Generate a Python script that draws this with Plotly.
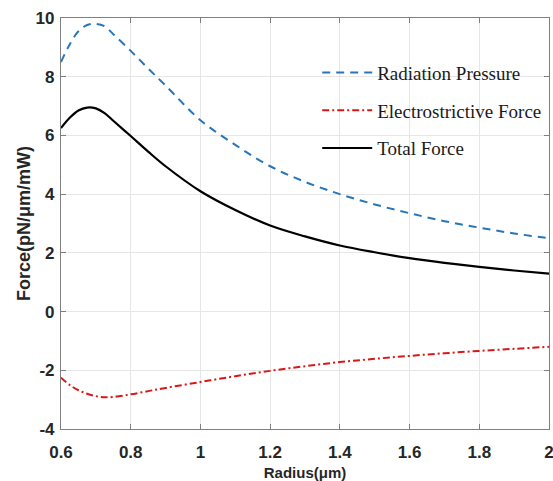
import plotly.graph_objects as go

radius = [0.6, 0.625, 0.65, 0.675, 0.7, 0.725, 0.75, 0.8, 0.85, 0.9, 1.0, 1.1,
          1.2, 1.3, 1.4, 1.5, 1.6, 1.7, 1.8, 1.9, 2.0]
radiation = [8.5, 9.1, 9.55, 9.76, 9.8, 9.72, 9.45, 8.88, 8.28, 7.7, 6.52, 5.68,
             4.95, 4.42, 4.0, 3.65, 3.35, 3.08, 2.86, 2.66, 2.5]
electro = [-2.25, -2.5, -2.68, -2.8, -2.88, -2.92, -2.91, -2.82, -2.71, -2.6, -2.4, -2.2,
           -2.02, -1.86, -1.72, -1.61, -1.51, -1.42, -1.34, -1.27, -1.2]
total = [6.25, 6.6, 6.85, 6.95, 6.92, 6.76, 6.5, 5.98, 5.45, 4.95, 4.1, 3.46,
         2.93, 2.56, 2.25, 2.02, 1.82, 1.66, 1.52, 1.4, 1.29]

x_ticks = [0.6, 0.8, 1, 1.2, 1.4, 1.6, 1.8, 2]
y_ticks = [-4, -2, 0, 2, 4, 6, 8, 10]

fig = go.Figure()
fig.add_trace(go.Scatter(x=radius, y=radiation, mode="lines", name="Radiation Pressure",
                         line=dict(color="#2676b8", width=2, dash="8px,6px", shape="spline"),
                         legendgroup="a"))
fig.add_trace(go.Scatter(x=radius, y=electro, mode="lines", name="Electrostrictive Force",
                         line=dict(color="#d81818", width=2, dash="7px,3px,2px,3px", shape="spline"),
                         legendgroup="b"))
fig.add_trace(go.Scatter(x=radius, y=total, mode="lines", name="Total Force",
                         line=dict(color="black", width=2.2, shape="spline"),
                         legendgroup="c"))

axis_common = dict(
    showgrid=True, gridcolor="#e6e6e6", gridwidth=1,
    showline=True, linecolor="#808080", linewidth=1.2, mirror="ticks",
    ticks="inside", ticklen=5, tickcolor="#808080", tickwidth=1,
    zeroline=False, automargin=False, ticklabeloverflow="allow",
    tickfont=dict(family="Liberation Sans", size=17, color="#262626", weight="bold"),
)

fig.update_layout(
    width=553, height=481,
    margin=dict(l=61, r=4, t=18, b=52),
    paper_bgcolor="white", plot_bgcolor="white",
    xaxis=dict(range=[0.6, 2], tickvals=x_ticks, ticktext=[str(v) for v in x_ticks],
               ticklabelstandoff=7,
               title=dict(text="Radius(μm)", standoff=7,
                          font=dict(family="Liberation Sans", size=15, color="#262626", weight="bold")),
               **axis_common),
    yaxis=dict(range=[-4, 10], tickvals=y_ticks, ticktext=[str(v) for v in y_ticks],
               ticklabelstandoff=2,
               title=dict(text="Force(pN/μm/mW)", standoff=0,
                          font=dict(family="Liberation Sans", size=18, color="#262626", weight="bold")),
               **axis_common),
    legend=dict(x=0.525, y=0.913, xanchor="left", yanchor="top",
                bgcolor="rgba(0,0,0,0)", borderwidth=0,
                font=dict(family="Liberation Serif", size=19, color="#1a1a1a"),
                itemwidth=50, tracegroupgap=10),
    showlegend=True,
)

fig.write_html("out.html", config={"displayModeBar": False},
               post_script="document.body.style.margin='0';")
